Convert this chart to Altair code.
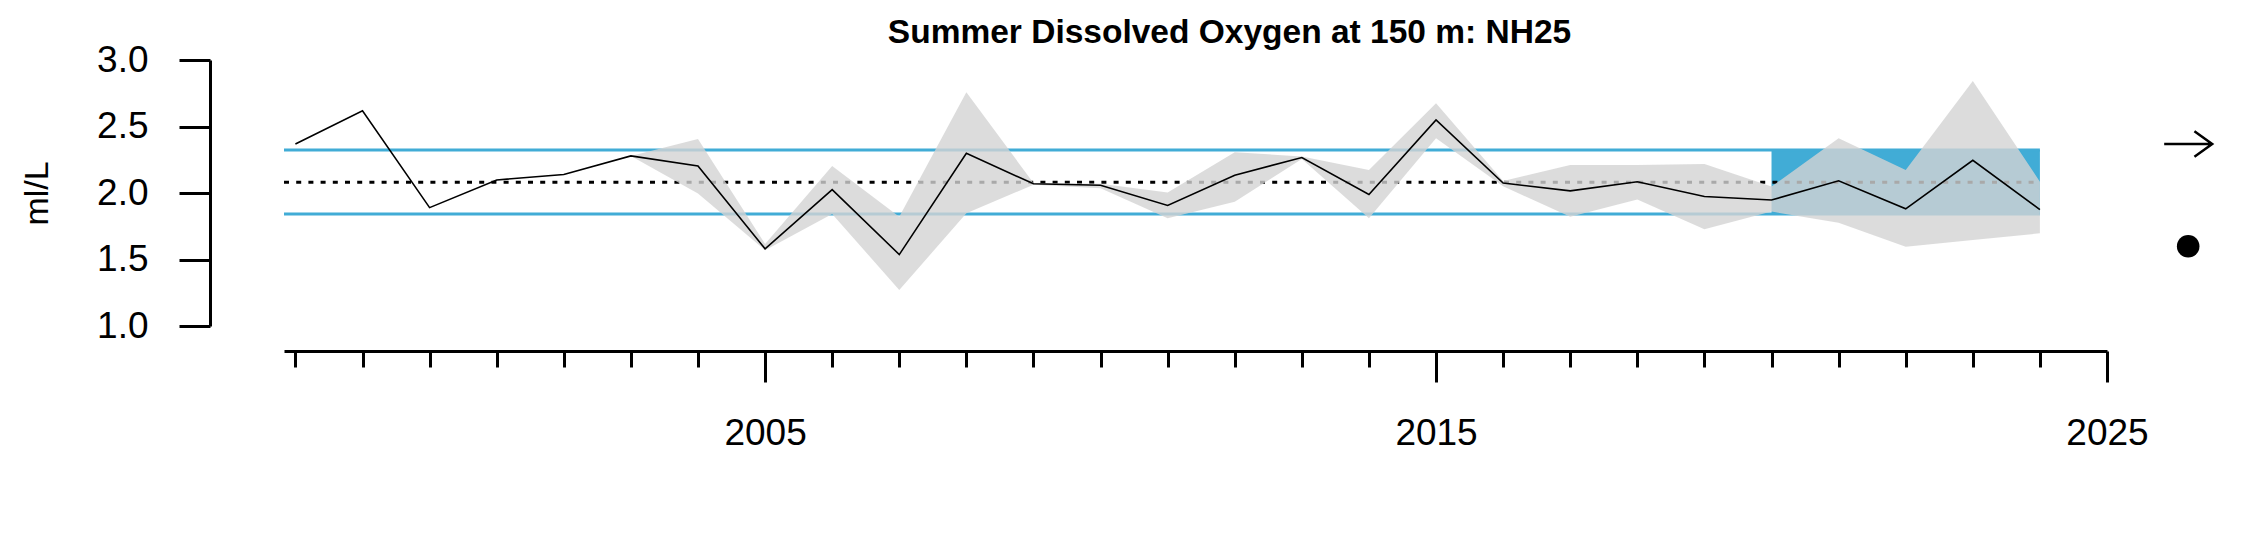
import altair as alt
import pandas as pd

# summer dissolved oxygen at 150 m, station NH25 (ml/L)
years = list(range(1998, 2025))
oxygen = [2.368, 2.619, 1.890, 2.098, 2.139, 2.279, 2.203, 1.580, 2.025, 1.537,
          2.299, 2.069, 2.058, 1.906, 2.133, 2.267, 1.989, 2.550, 2.075, 2.016,
          2.084, 1.974, 1.947, 2.092, 1.881, 2.246, 1.875]

# uncertainty band (only from 2003 on)
band_years = list(range(2003, 2025))
band_upper = [2.279, 2.406, 1.617, 2.203, 1.822, 2.757, 2.075, 2.070, 2.003, 2.306,
              2.275, 2.173, 2.674, 2.090, 2.211, 2.211, 2.218, 2.048, 2.411, 2.173,
              2.842, 2.085]
band_lower = [2.279, 1.997, 1.570, 1.842, 1.271, 1.847, 2.062, 2.035, 1.810, 1.935,
              2.255, 1.810, 2.411, 2.050, 1.822, 1.952, 1.727, 1.860, 1.777, 1.596,
              1.647, 1.697]

# long term mean +/- 1 sd
mean_do = 2.080
sd_upper = 2.323
sd_lower = 1.842

x_start = 1997.83
x_end = 2025
recent_start = 2020
recent_end = 2024

# trend / mean symbols to the right of the plot
symbol_x = 2026.21
trend_y = 2.368
recent_mean_y = 1.60

tick_years = list(range(1998, 2026))
y_ticks = [1.0, 1.5, 2.0, 2.5, 3.0]

font = 'Liberation Sans'
blue = '#41acd6'

series = pd.DataFrame({'year': years, 'do': oxygen})
band = pd.DataFrame({'year': band_years, 'upper': band_upper, 'lower': band_lower})
sd_lines = pd.DataFrame({'x': [x_start, x_start], 'x2': [recent_end, recent_end],
                         'y': [sd_upper, sd_lower]})
mean_line = pd.DataFrame({'x': [x_start], 'x2': [recent_end], 'y': [mean_do]})
recent = pd.DataFrame({'x': [recent_start], 'x2': [recent_end],
                       'y': [sd_lower], 'y2': [sd_upper]})
arrow = pd.DataFrame({'x': [symbol_x], 'y': [trend_y]})
dot = pd.DataFrame({'x': [symbol_x], 'y': [recent_mean_y]})

x_scale = alt.Scale(domain=[x_start, x_end], nice=False, zero=False)
y_scale = alt.Scale(domain=[1, 3], nice=False, zero=False)

major_test = 'datum.value % 10 == 5'
x_axis = alt.Axis(values=tick_years, format='d', title=None, grid=False,
                  labelExpr="datum.value % 10 == 5 ? datum.label : ''",
                  tickSize=alt.condition(major_test, alt.value(31), alt.value(16)),
                  labelPadding=33, labelFlush=False, offset=25)
y_axis = alt.Axis(values=y_ticks, format='.1f', title='ml/L', grid=False,
                  tickSize=31, labelPadding=31, offset=74, titlePadding=42)


def xq(field):
    return alt.X(field, type='quantitative', scale=x_scale, axis=x_axis)


def yq(field):
    return alt.Y(field, type='quantitative', scale=y_scale, axis=y_axis)


recent_box = alt.Chart(recent).mark_rect(color=blue).encode(
    x=xq('x'), x2='x2', y=yq('y'), y2='y2'
)

sd_rules = alt.Chart(sd_lines).mark_rule(color=blue, strokeWidth=3).encode(
    x=xq('x'), x2='x2', y=yq('y')
)

mean_rule = alt.Chart(mean_line).mark_rule(color='black', strokeWidth=3, strokeDash=[5, 7.2]).encode(
    x=xq('x'), x2='x2', y=yq('y')
)

band_area = alt.Chart(band).mark_area(color='#d3d3d3', opacity=0.8).encode(
    x=xq('year'), y=yq('upper'), y2='lower'
)

do_line = alt.Chart(series).mark_line(color='black', strokeWidth=1.6).encode(
    x=xq('year'), y=yq('do')
)

arrow_mark = alt.Chart(arrow).mark_point(
    shape='M-1,0L1,0M0.26,-0.53L1,0L0.26,0.53', size=2304, filled=False,
    stroke='black', strokeWidth=2.5, opacity=1
).encode(x=xq('x'), y=yq('y'))

dot_mark = alt.Chart(dot).mark_point(
    shape='circle', size=510, filled=True, color='black', opacity=1
).encode(x=xq('x'), y=yq('y'))

chart = alt.layer(
    recent_box, sd_rules, mean_rule, band_area, do_line, arrow_mark, dot_mark
).properties(
    width=1823,
    height=266,
    autosize=alt.AutoSizeParams(type='none'),
    padding={'left': 276, 'top': 52, 'right': 135, 'bottom': 206},
    title=alt.TitleParams('Summer Dissolved Oxygen at 150 m: NH25', font=font,
                          fontSize=33.5, fontWeight='bold', color='black',
                          anchor='middle', frame='group', offset=-9, dx=34)
).configure_view(
    stroke=None
).configure_axis(
    domainColor='black', domainWidth=3, tickColor='black', tickWidth=3,
    labelColor='black', labelFont=font, labelFontSize=37,
    titleColor='black', titleFont=font, titleFontSize=34, titleFontWeight='normal'
)

chart.save('out.html', embed_options={'renderer': 'svg', 'actions': False})
